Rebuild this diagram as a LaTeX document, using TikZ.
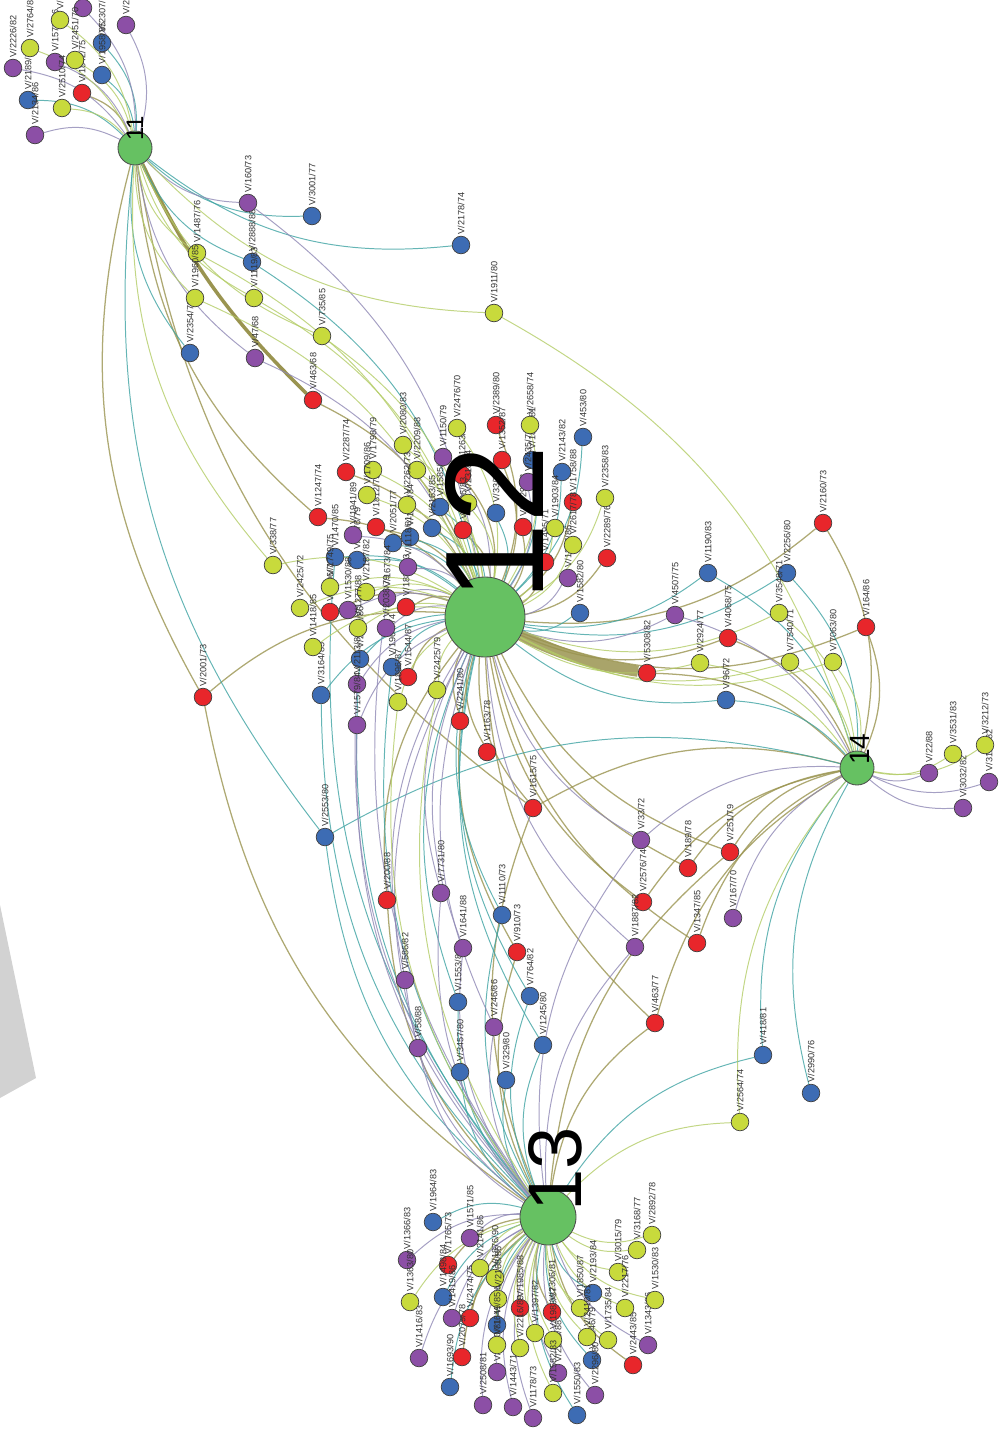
\documentclass[tikz,border=0pt]{standalone}
\usepackage{fontspec}
\setmainfont{Liberation Sans}
\usetikzlibrary{backgrounds}

\definecolor{nred}{HTML}{E8262B}
\definecolor{nblue}{HTML}{3D6CB4}
\definecolor{npurple}{HTML}{8C4FA6}
\definecolor{nyellow}{HTML}{C8DA3C}
\definecolor{nhub}{HTML}{66C162}
\definecolor{ered}{HTML}{9A9450}
\definecolor{eblue}{HTML}{3FA3A3}
\definecolor{epurple}{HTML}{8F88B5}
\definecolor{eyellow}{HTML}{B3CC66}

\begin{document}
\begin{tikzpicture}[x=0.025cm,y=-0.025cm,
    leaf/.style={circle, draw=black!75, line width=0.5pt, minimum size=0.44cm, inner sep=0pt},
    hub/.style={circle, draw=black!70, line width=0.6pt, fill=nhub, inner sep=0pt},
    lbl/.style={rotate=90, anchor=west, inner sep=0.8pt, text=black!80, font=\fontsize{6.5}{7}\selectfont},
    hubnum/.style={rotate=90, anchor=west, inner sep=0pt},
    link/.style={line width=0.7pt, opacity=0.8}]
    \useasboundingbox (0,0) rectangle (999,1433);

    % grey wedge on the left border
    \fill[gray!35] (0,905) -- (36,1078) -- (0,1098) -- cycle;

    % Hubs
    \node[hub, minimum size=0.85cm] (h11) at (135,148) {};
    \node[hub, minimum size=2cm]    (h12) at (485,617) {};
    \node[hub, minimum size=1.4cm]  (h13) at (548,1217) {};
    \node[hub, minimum size=0.85cm] (h14) at (857,768) {};

    % Red leaves
    \foreach \nm/\x/\y/\lnum/\lyr in {r1/82/93/1842/75, r2/313/400/463/68, r3/346/472/2287/74,
        r4/496/425/2389/80, r5/502/460/1352/87, r6/462/475/1263/75, r7/318/517/1247/74,
        r8/376/527/1812/79, r9/463/530/1096/83, r10/523/527/1729/88, r11/573/502/1758/88,
        r12/607/558/2289/76, r13/545/562/1495/71, r14/330/612/2406/76, r15/406/607/1885/73,
        r16/408/677/1544/87, r17/460/721/2241/80, r18/487/752/1163/78, r19/203/697/2001/73,
        r20/533/808/1615/75, r21/688/868/189/78, r22/730/852/251/79, r23/387/900/200/88,
        r24/643/902/2576/74, r25/517/952/910/73, r26/697/943/1347/85, r27/655/1023/463/77,
        r28/823/523/2160/73, r29/728/638/4068/75, r30/866/627/164/86, r31/647/673/5308/82,
        r32/448/1265/1765/73, r33/520/1308/1985/88, r34/552/1312/2306/81, r35/470/1318/2474/75,
        r36/462/1357/2079/78, r37/633/1365/2443/85}
    {
        \node[leaf, fill=nred] (\nm) at (\x,\y) {};
        \node[lbl] (\nm-t) at (\nm.north) {V/\lnum/\lyr};
    }

    % Blue leaves
    \foreach \nm/\x/\y/\lnum/\lyr in {b1/102/43/2307/73, b2/102/75/1958/85, b3/28/100/2189/79,
        b4/312/216/3001/77, b5/461/245/2178/74, b6/252/262/2888/88, b7/190/353/2354/72,
        b8/583/437/453/80, b9/532/460/1870/81, b10/440/507/1585/77, b11/496/513/33/76,
        b12/432/528/2163/85, b13/562/472/2143/82, b14/580/613/1582/80, b15/410/537/1653/84,
        b16/393/543/2051/77, b17/335/557/1470/85, b18/357/560/2276/79, b19/360/659/2392/86,
        b20/392/667/1964/74, b21/321/695/3164/85, b22/325/837/2553/80, b23/502/915/1110/73,
        b24/458/1002/1553/80, b25/530/996/764/82, b26/543/1045/1245/80, b27/460/1072/3457/80,
        b28/506/1080/329/80, b29/763/1055/418/81, b30/811/1093/2990/76, b31/708/573/1190/83,
        b32/787/573/2256/80, b33/726/700/96/72, b34/433/1222/1964/83, b35/443/1297/1498/84,
        b36/593/1293/2193/84, b37/497/1325/1876/73, b38/592/1360/2246/79, b39/450/1387/1693/90,
        b40/577/1415/1550/83}
    {
        \node[leaf, fill=nblue] (\nm) at (\x,\y) {};
        \node[lbl] (\nm-t) at (\nm.north) {V/\lnum/\lyr};
    }

    % Purple leaves
    \foreach \nm/\x/\y/\lnum/\lyr in {p1/13/68/2226/82, p2/55/62/1577/86, p3/83/8/2186/77,
        p4/35/135/2134/86, p5/126/25/2425/81, p6/248/203/160/73, p7/255/358/47/68,
        p8/443/457/1150/79, p9/528/482/2435/77, p10/568/578/1327/86, p11/353/535/1941/89,
        p12/408/567/1118/81, p13/387/598/1673/84, p14/348/610/1530/88, p15/386/628/2038/79,
        p16/357/684/2113/80, p17/357/725/1579/84, p18/641/840/33/72, p19/441/893/7731/80,
        p20/463/948/1641/88, p21/635/947/1887/82, p22/733/918/167/70, p23/405/980/586/82,
        p24/494/1027/246/86, p25/418/1048/58/88, p26/675/615/4507/75, p27/929/773/22/88,
        p28/989/782/3121/82, p29/963/808/3032/82, p30/470/1238/1571/85, p31/407/1260/1366/83,
        p32/452/1318/1419/86, p33/648/1345/1343/86, p34/419/1358/1416/83, p35/497/1372/2520/81,
        p36/558/1373/2265/88, p37/483/1405/2508/81, p38/513/1407/1443/71, p39/595/1395/2296/80,
        p40/533/1418/1178/73}
    {
        \node[leaf, fill=npurple] (\nm) at (\x,\y) {};
        \node[lbl] (\nm-t) at (\nm.north) {V/\lnum/\lyr};
    }

    % Yellow leaves
    \foreach \nm/\x/\y/\lnum/\lyr in {y1/30/48/2764/88, y2/60/20/2737/80, y3/75/60/2451/70,
        y4/62/108/2510/74, y5/197/253/1487/76, y6/195/298/1960/85, y7/254/298/1119/83,
        y8/494/313/1911/80, y9/322/336/735/85, y10/403/445/2080/83, y11/373/470/1798/79,
        y12/417/470/2209/88, y13/457/428/2476/70, y14/530/425/2658/74, y15/367/495/1709/86,
        y16/407/505/2262/73, y17/468/503/2318/84, y18/605/498/2358/83, y19/555/528/1903/84,
        y20/573/545/2617/78, y21/330/587/1749/75, y22/366/592/2187/82, y23/300/608/2425/72,
        y24/358/628/1277/88, y25/313/647/1418/85, y26/437/690/2425/79, y27/398/702/1896/87,
        y28/273/565/338/77, y29/740/1122/2564/74, y30/779/613/3548/71, y31/700/663/2924/77,
        y32/790/662/7540/71, y33/833/662/7063/80, y34/953/754/3531/83, y35/985/745/3212/73,
        y36/480/1268/2141/86, y37/495/1278/1876/90, y38/652/1235/2892/78, y39/637/1250/3168/77,
        y40/618/1272/3015/79, y41/410/1302/1363/80, y42/498/1299/2168/86, y43/580/1308/1850/87,
        y44/625/1308/2217/76, y45/655/1300/1530/83, y46/535/1333/1397/82, y47/497/1345/1649/85,
        y48/520/1348/2216/89, y49/553/1340/1983/87, y50/587/1337/2410/81, y51/608/1340/1735/84,
        y52/553/1393/1582/83}
    {
        \node[leaf, fill=nyellow] (\nm) at (\x,\y) {};
        \node[lbl] (\nm-t) at (\nm.north) {V/\lnum/\lyr};
    }

    % Hub numbers
    \node[hubnum, font=\fontsize{17}{17}\selectfont]   (h11-t) at (135,141) {11};
    \node[hubnum, font=\fontsize{100}{100}\selectfont] (h12-t) at (494,602) {12};
    \node[hubnum, font=\fontsize{54}{54}\selectfont]   (h13-t) at (555,1212) {13};
    \node[hubnum, font=\fontsize{20}{20}\selectfont]   (h14-t) at (860,765) {14};

    % Links
    \begin{scope}[on background layer]
    % heavy band from 12
    \draw[ered, line width=8pt, opacity=0.85] (h12) to[bend right=8] (r31);
    \draw[ered, line width=2.5pt] (h11) to[bend right=10] (r2);

    \foreach \src/\dst in {h11/r1, h12/r2, h11/r19, h11/r20, h11/r7,
        h12/r3, h12/r4, h12/r5, h12/r6, h12/r7, h12/r8, h12/r9, h12/r10, h12/r11, h12/r12,
        h12/r13, h12/r14, h12/r15, h12/r16, h12/r17, h12/r18, h12/r19, r19/h13,
        h12/r20, h14/r20, r20/h13, h12/r21, h14/r21, h12/r22, h14/r22, r22/h13,
        h12/r23, r23/h13, h12/r24, h14/r24, h12/r25, r25/h13, h14/r26, h12/r26,
        h14/r27, r27/h13, h12/r27, h14/r28, h12/r28, h12/r29, h14/r29, h12/r30, h14/r30,
        h14/r31, h13/r32, h13/r33, h13/r34, h13/r35, h13/r36, h13/r37}
        \draw[link, ered, line width=0.9pt] (\src) to[bend right=22] (\dst);

    \foreach \src/\dst in {h11/b1, h11/b2, h11/b3, h11/b4, h11/b5, h11/b6, h12/b6, h11/b7,
        h12/b8, h12/b9, h12/b10, h12/b11, h12/b12, h12/b13, h12/b14, h12/b15, h12/b16,
        h12/b17, h12/b18, h12/b19, h12/b20, h12/b21, b21/h13, b19/h13, b20/h13, b17/h13,
        h11/b22, h14/b22, b22/h13, h12/b23, b23/h13, h12/b24, b24/h13, h12/b25, b25/h13,
        h12/b26, b26/h13, b27/h13, b28/h13, h14/b29, b29/h13, h14/b30,
        h12/b31, h14/b31, h12/b32, h14/b32, h12/b33, h14/b33,
        h13/b34, h13/b35, h13/b36, h13/b37, h13/b38, h13/b39, h13/b40}
        \draw[link, eblue] (\src) to[bend right=22] (\dst);

    \foreach \src/\dst in {h11/p1, h11/p2, h11/p3, h11/p4, h11/p5, h11/p6, h12/p6, h11/p7,
        h12/p7, h12/p8, h12/p9, h12/p10, h12/p11, h12/p12, h12/p13, h12/p14, h12/p15,
        h12/p16, h12/p17, p16/h13, p17/h13, p13/h13,
        h12/p18, h14/p18, p18/h13, h12/p19, p19/h13, h12/p20, p20/h13, h12/p21, p21/h13,
        h14/p22, h12/p23, p23/h13, h12/p24, p24/h13, h12/p25, p25/h13,
        h12/p26, h14/p26, h14/p27, h14/p28, h14/p29,
        h13/p30, h13/p31, h13/p32, h13/p33, h13/p34, h13/p35, h13/p36, h13/p37, h13/p38,
        h13/p39, h13/p40}
        \draw[link, epurple] (\src) to[bend right=22] (\dst);

    \foreach \src/\dst in {h11/y1, h11/y2, h11/y3, h11/y4, h11/y5, h12/y5, h11/y6, h12/y6,
        h11/y7, h12/y7, h11/y8, h14/y8, h11/y9, h12/y9,
        h12/y10, h12/y11, h12/y12, h12/y13, h12/y14, h12/y15, h12/y16, h12/y17, h12/y18,
        h12/y19, h12/y20, h12/y21, h12/y22, h12/y23, h12/y24, h12/y25, h12/y26, h12/y27,
        h12/y28, y27/h13, y26/h13, h11/y28,
        h14/y29, y29/h13, h12/y30, h14/y30, h12/y31, h14/y31, h12/y32, h14/y32,
        h12/y33, h14/y33, h14/y34, h14/y35,
        h13/y36, h13/y37, h13/y38, h13/y39, h13/y40, h13/y41, h13/y42, h13/y43, h13/y44,
        h13/y45, h13/y46, h13/y47, h13/y48, h13/y49, h13/y50, h13/y51, h13/y52}
        \draw[link, eyellow] (\src) to[bend right=22] (\dst);
    \end{scope}
\end{tikzpicture}
\end{document}
